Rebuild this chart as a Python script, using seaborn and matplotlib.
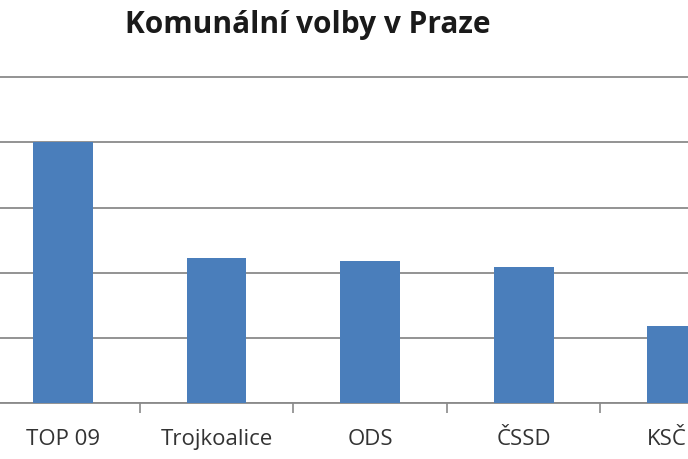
import matplotlib.pyplot as plt
import numpy as np
import pandas as pd
import seaborn as sns

# data (units: 5 per gridline)
parties = ["TOP 09", "Trojkoalice", "ODS", "ČSSD", "KSČM"]
votes = [20.0, 11.1, 10.9, 10.4, 5.9]

df = pd.DataFrame({"strana": parties, "hlasy": votes})

sns.set_theme(style="white")
plt.rcParams["font.family"] = ["Open Sans", "DejaVu Sans"]

fig = plt.figure(figsize=(6.88, 4.59), dpi=100)
ax = fig.add_axes((0, 0.122, 1, 0.712))

sns.barplot(data=df, x="strana", y="hlasy", order=parties, color="#4a7ebb",
            saturation=1, width=0.39, linewidth=0, ax=ax, zorder=3)

ax.set_xlim(-0.41, 4.07)
ax.set_ylim(0, 25.08)
ax.set_yticks(np.arange(0, 26, 5))
ax.yaxis.grid(True, color="#8a8a8a", linewidth=1.3)
ax.set_axisbelow(True)
ax.tick_params(axis="y", left=False, labelleft=False)
ax.tick_params(axis="x", length=0, labelsize=16, labelcolor="#333333", pad=19)
ax.set_xticks(np.arange(0.5, 4, 1), minor=True)
ax.tick_params(axis="x", which="minor", length=7, width=1.2, color="#8a8a8a",
               bottom=True)
ax.set_xlabel("")
ax.set_ylabel("")
for side in ["top", "left", "right"]:
    ax.spines[side].set_visible(False)
ax.spines["bottom"].set_color("#8a8a8a")
ax.spines["bottom"].set_linewidth(1.3)

fig.text(0.447, 0.945, "Komunální volby v Praze", ha="center", va="center",
         fontsize=21.5, fontweight="bold", color="#1a1a1a")

fig.savefig("out.png", dpi=100)
